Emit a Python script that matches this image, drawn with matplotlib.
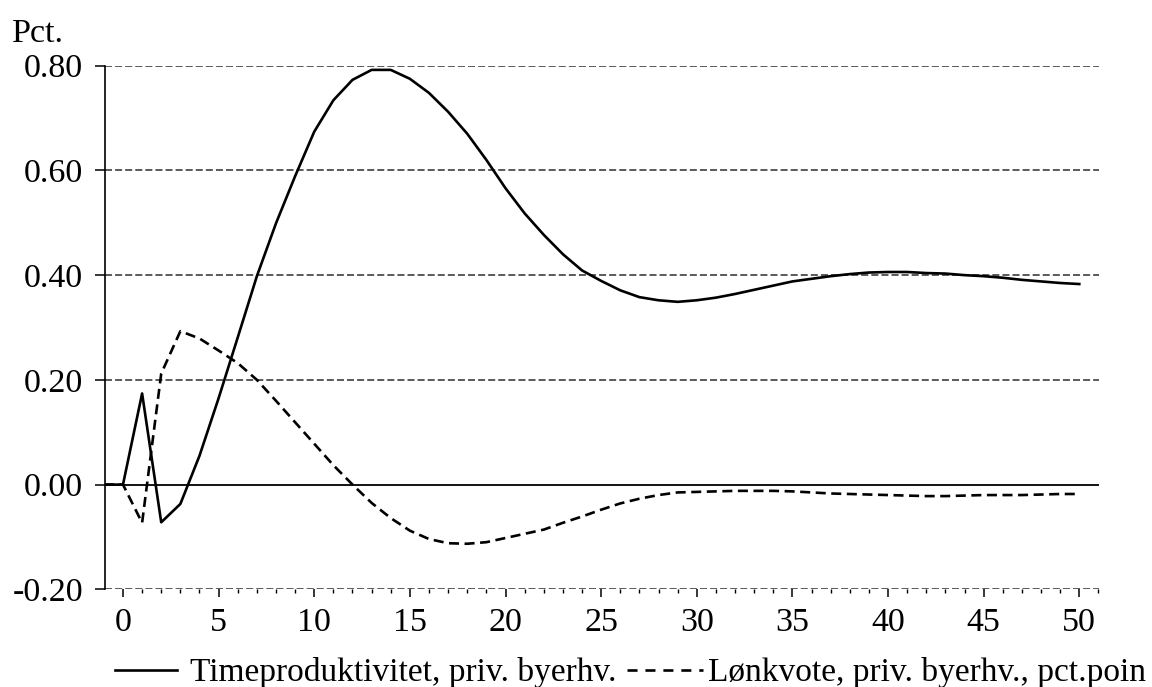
import matplotlib
matplotlib.use("Agg")
import matplotlib.pyplot as plt
from matplotlib.lines import Line2D
from matplotlib.ticker import MultipleLocator, FixedLocator

# Quarters after the shock (series start one period before 0)
periods = list(range(-1, 51))

# Hourly productivity, private urban industries (pct.)
productivity = [
    0.0, 0.0, 0.174, -0.072, -0.037, 0.055, 0.165, 0.281, 0.398, 0.499,
    0.589, 0.674, 0.734, 0.773, 0.792, 0.792, 0.775, 0.748, 0.712, 0.670,
    0.620, 0.566, 0.518, 0.477, 0.440, 0.409, 0.389, 0.371, 0.358, 0.352,
    0.349, 0.352, 0.357, 0.364, 0.372, 0.380, 0.388, 0.393, 0.398, 0.402,
    0.405, 0.406, 0.406, 0.404, 0.403, 0.400, 0.398, 0.395, 0.391, 0.388,
    0.385, 0.383,
]

# Wage share, private urban industries (pct. points)
wage_share = [
    0.0, 0.0, -0.073, 0.212, 0.293, 0.279, 0.256, 0.232, 0.200, 0.160,
    0.119, 0.078, 0.037, 0.000, -0.035, -0.064, -0.088, -0.104, -0.112, -0.113,
    -0.110, -0.102, -0.094, -0.086, -0.073, -0.061, -0.048, -0.036, -0.027, -0.020,
    -0.015, -0.014, -0.013, -0.012, -0.012, -0.012, -0.013, -0.015, -0.017, -0.018,
    -0.019, -0.020, -0.021, -0.022, -0.022, -0.021, -0.020, -0.020, -0.020, -0.019,
    -0.018, -0.018,
]

legend_labels = ["Timeproduktivitet, priv. byerhv.",
                 "Lønkvote, priv. byerhv., pct.poin"]
y_ticks = [-0.2, 0.0, 0.2, 0.4, 0.6, 0.8]
x_ticks = list(range(0, 51, 5))

plt.rcParams["font.family"] = ["Liberation Serif", "DejaVu Serif"]
FS = 24.5
FS_LEG = 24

fig = plt.figure(figsize=(11.52, 6.87), dpi=100)
ax = fig.add_axes([105 / 1152, 1 - 589.3 / 687, (1099 - 105) / 1152, 523.6 / 687])

LW = 1.9
dash_style = (0, (3.8, 2.1))

# Horizontal reference lines
for yv in y_ticks:
    if yv == 0.0:
        ax.axhline(yv, color="black", lw=1.3, zorder=1)
    else:
        ax.axhline(yv, color="#2e2e2e", lw=1.1, ls=(0, (4.6, 2.0)), zorder=1)

ax.plot(periods, productivity, color="black", lw=LW, zorder=3)
ax.plot(periods, wage_share, color="black", lw=LW, ls=dash_style, zorder=3)

ax.set_xlim(-0.94, 51.03)
ax.set_ylim(-0.2, 0.8)

ax.xaxis.set_major_locator(FixedLocator(x_ticks))
ax.xaxis.set_minor_locator(MultipleLocator(1))
ax.set_xticklabels([str(v) for v in x_ticks])
ax.set_yticks(y_ticks)
ax.set_yticklabels([f"{v:.2f}" for v in y_ticks])

ax.tick_params(axis="x", which="major", direction="out", length=5.8, width=1.1,
               pad=7.0, labelsize=FS, colors="black")
ax.tick_params(axis="x", which="minor", direction="out", length=3.0, width=1.0)
ax.tick_params(axis="y", which="major", direction="out", length=7.2, width=1.1,
               pad=8.5, labelsize=FS, colors="black")

for side in ("top", "right", "bottom"):
    ax.spines[side].set_visible(False)
ax.spines["left"].set_color("black")
ax.spines["left"].set_linewidth(1.2)

fig.text(12 / 1152, 1 - 42 / 687, "Pct.", fontsize=FS, ha="left", va="baseline")

# Legend drawn below the axis
y_line = 1 - 670 / 687
y_text = 1 - 681 / 687
fig.add_artist(Line2D([115 / 1152, 177 / 1152], [y_line, y_line],
                      transform=fig.transFigure, color="black", lw=LW))
fig.text(190 / 1152, y_text, legend_labels[0], fontsize=FS_LEG,
         ha="left", va="baseline")
fig.add_artist(Line2D([627 / 1152, 703 / 1152], [y_line, y_line],
                      transform=fig.transFigure, color="black", lw=LW,
                      ls=(0, (3.8, 3.0))))
fig.text(708 / 1152, y_text, legend_labels[1], fontsize=FS_LEG,
         ha="left", va="baseline")

fig.savefig("out.png", dpi=100)
